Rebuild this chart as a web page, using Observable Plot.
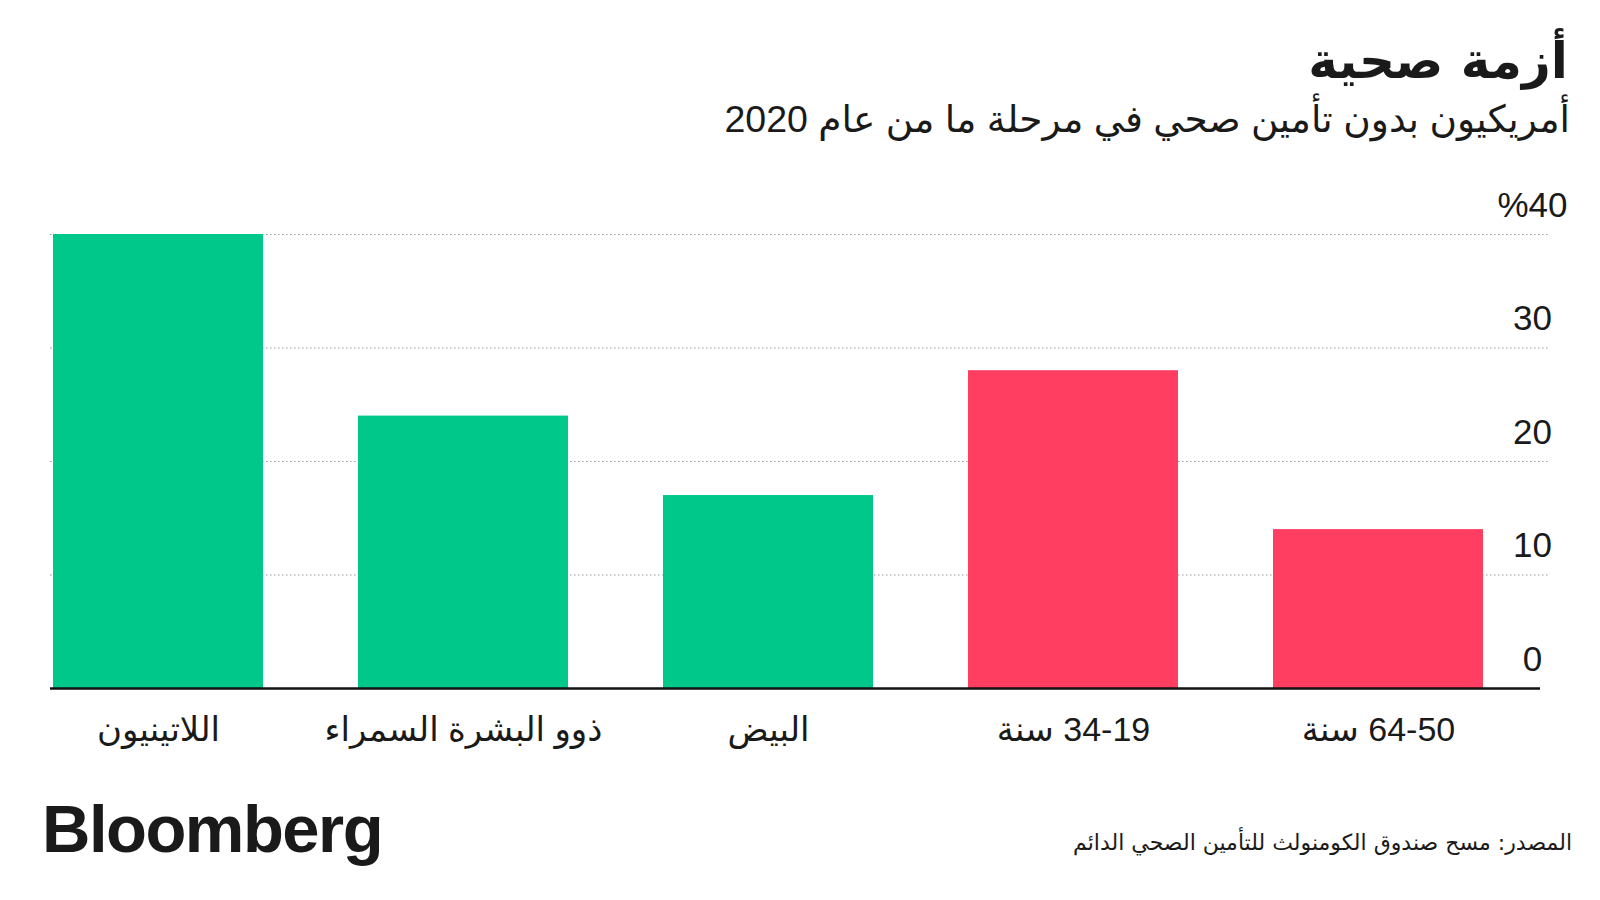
<!DOCTYPE html>
<html><head><meta charset="utf-8">
<script src="https://cdn.jsdelivr.net/npm/d3@7"></script>
<script src="https://cdn.jsdelivr.net/npm/@observablehq/plot@0.6"></script>
<style>
body{margin:0;background:#fff;}
#wrap{position:relative;width:1600px;height:900px;overflow:hidden;background:#fff;}
.t{position:absolute;white-space:nowrap;line-height:1;color:#1a1a1a;}
#chart{position:absolute;left:0;top:180px;}
</style></head><body>
<div id="wrap">
  <div class="t" id="title" dir="rtl" style="right:32px;top:36px;font-weight:bold;font-size:50px;font-family:'DejaVu Sans'">أزمة صحية</div>
  <div class="t" id="subtitle" dir="rtl" style="right:30px;top:101px;font-size:37.5px;font-family:'Liberation Sans','DejaVu Sans'">أمريكيون بدون تأمين صحي في مرحلة ما من عام 2020</div>
  <div id="chart"></div>
  <div class="t" id="logo" style="left:42px;top:795px;font-weight:bold;font-size:67px;letter-spacing:-1.5px;font-family:'Liberation Sans'">Bloomberg</div>
  <div class="t" id="source" dir="rtl" style="right:28px;top:832px;font-size:22px;font-family:'DejaVu Sans'">المصدر: مسح صندوق الكومنولث للتأمين الصحي الدائم</div>
</div>
<script>
const categories = ["اللاتينيون", "ذوو البشرة السمراء", "البيض", "34-19 سنة", "64-50 سنة"];
const values = [40, 24, 17, 28, 14];
const groups = ["race", "race", "race", "age", "age"];
const yTicks = [0, 10, 20, 30, 40];
const gridTicks = [10, 20, 30, 40];
const groupColors = ["#00C88A", "#FF3E61"];

const data = categories.map((c, i) => ({category: c, value: values[i], group: groups[i]}));

const chart = Plot.plot({
  width: 1600,
  height: 580,
  marginLeft: 50,
  marginRight: 50,
  marginTop: 54,
  marginBottom: 72,
  style: {fontFamily: "'Liberation Sans','DejaVu Sans',sans-serif", color: "#1a1a1a", background: "#fff"},
  x: {domain: categories, range: [53, 1484], paddingInner: 0.31, paddingOuter: 0},
  y: {domain: [0, 40]},
  color: {domain: ["race", "age"], range: groupColors},
  marks: [
    Plot.ruleY(gridTicks, {stroke: "#9a9a9a", strokeWidth: 1, strokeDasharray: "1.5,2.5"}),
    Plot.barY(data, {x: "category", y: "value", fill: "group"}),
    Plot.ruleY([0], {stroke: "#111", strokeWidth: 2.5, insetRight: 10}),
    Plot.axisY(yTicks, {anchor: "right", tickSize: 0, tickPadding: 0, textAnchor: "middle", lineAnchor: "bottom", dx: -18, dy: -18, fontSize: 35, label: null, tickFormat: d => d === 40 ? "%40" : String(d)}),
    Plot.axisX({tickSize: 0, tickPadding: 28, fontSize: 34, label: null})
  ]
});
document.getElementById("chart").appendChild(chart);
chart.querySelectorAll('g[aria-label="x-axis tick label"] text').forEach(t => t.setAttribute("direction", "rtl"));
</script>
</body></html>
